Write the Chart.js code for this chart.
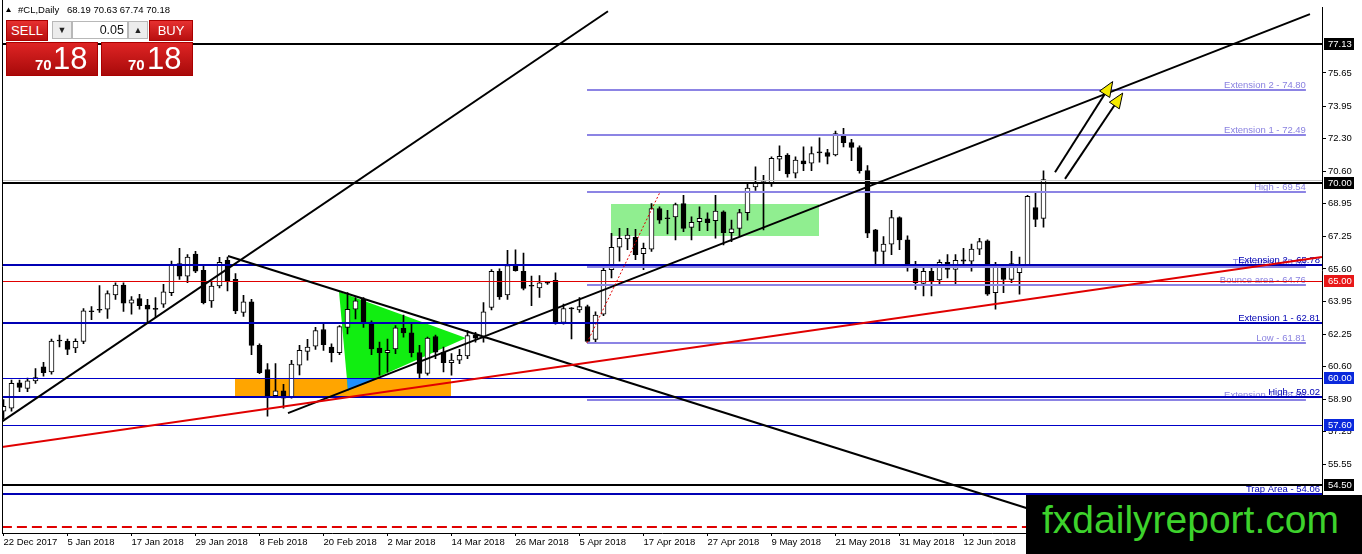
<!DOCTYPE html>
<html><head><meta charset="utf-8">
<script src="https://cdn.jsdelivr.net/npm/chart.js@4/dist/chart.umd.min.js"></script>
<style>
html,body{margin:0;padding:0;background:#fff;overflow:hidden}
#wrap{position:relative;width:1362px;height:554px;font-family:"Liberation Sans",Arial,sans-serif}
#c{position:absolute;left:0;top:0}
.btn{position:absolute;background:linear-gradient(#e63030,#b80f0f);color:#fff;font-size:13px;text-align:center;box-sizing:border-box;border:1px solid #a00}
.spin{position:absolute;background:#ececec;border:1px solid #b8b8b8;box-sizing:border-box;font-size:9px;text-align:center;color:#222}
.inp{position:absolute;background:#fff;border:1px solid #b8b8b8;box-sizing:border-box;font-size:12.5px;text-align:right;padding-right:3px;color:#111}
.big{position:absolute;background:linear-gradient(#de2424,#a80a0a);box-sizing:border-box;border:1px solid #a00;color:#fff}
.big .s{position:absolute;font-size:15px;font-weight:bold;line-height:15px}
.big .b{position:absolute;font-size:31px;line-height:31px}
#wm{position:absolute;left:1026px;top:495px;width:336px;height:59px;background:#000;color:#3dd22c;font-size:39px;line-height:39px;box-sizing:border-box;padding:5px 0 0 16px;white-space:nowrap}
</style></head>
<body>
<div id="wrap">
<canvas id="c" width="1362" height="554"></canvas>
<div class="btn" style="left:6px;top:20px;width:42px;height:21px;line-height:19px">SELL</div>
<div class="spin" style="left:52px;top:21px;width:20px;height:18px;line-height:16px">&#9660;</div>
<div class="inp" style="left:72px;top:21px;width:56px;height:18px;line-height:16px">0.05</div>
<div class="spin" style="left:128px;top:21px;width:20px;height:18px;line-height:16px">&#9650;</div>
<div class="btn" style="left:149px;top:20px;width:44px;height:21px;line-height:19px">BUY</div>
<div class="big" style="left:6px;top:42px;width:92px;height:34px"><span class="s" style="left:28px;top:14px">70</span><span class="b" style="left:46px;top:0px">18</span></div>
<div class="big" style="left:101px;top:42px;width:92px;height:34px"><span class="s" style="left:26px;top:14px">70</span><span class="b" style="left:45px;top:0px">18</span></div>
<div id="wm">fxdailyreport.com</div>
</div>
<script>
// ---------- data ----------
const dateLabels = ['22 Dec 2017','5 Jan 2018','17 Jan 2018','29 Jan 2018','8 Feb 2018','20 Feb 2018','2 Mar 2018','14 Mar 2018','26 Mar 2018','5 Apr 2018','17 Apr 2018','27 Apr 2018','9 May 2018','21 May 2018','31 May 2018','12 Jun 2018'];
const dateTickIndex = [0,8,16,24,32,40,48,56,64,72,80,88,96,104,112,120];

const opens = [58.30,58.46,59.76,59.47,59.85,60.57,60.32,61.95,61.88,61.55,61.88,63.45,63.52,63.53,64.26,64.77,63.84,64.08,63.74,63.58,63.79,64.38,65.87,65.23,66.36,65.53,63.96,64.72,66.04,65.06,63.37,63.91,61.68,60.44,59.10,59.34,59.05,60.66,61.37,61.64,62.49,61.59,61.30,62.60,63.53,64.04,62.77,61.54,61.30,61.50,62.55,62.32,61.30,60.24,62.13,61.33,60.79,60.92,61.13,62.21,62.05,63.62,65.48,64.26,65.79,65.48,64.74,64.63,64.89,65.01,62.86,63.58,63.50,63.67,61.98,63.28,65.56,66.72,67.14,67.22,66.38,66.61,68.70,68.22,68.27,68.95,67.73,68.02,68.17,68.07,68.53,67.46,67.68,68.49,69.80,70.02,69.96,71.23,71.44,70.51,71.15,71.02,71.58,71.57,71.45,72.47,72.08,71.83,70.64,67.61,66.50,66.87,68.23,67.09,65.60,64.85,65.48,65.03,65.94,65.57,66.07,65.99,66.61,67.04,64.38,65.74,65.06,65.40,65.82,68.75,68.19];
const highs = [58.90,59.90,59.90,60.00,60.49,60.80,62.00,62.20,62.00,62.01,63.57,63.67,64.75,64.47,64.89,64.89,64.18,64.30,64.04,64.13,64.81,66.00,66.66,66.33,66.50,65.74,64.97,66.19,66.21,65.36,64.24,64.04,61.76,60.74,60.74,59.68,60.91,61.68,61.98,62.60,62.77,61.76,62.69,64.38,64.13,64.13,62.94,61.84,62.00,62.69,63.23,62.86,61.68,62.10,62.21,61.59,61.25,61.47,62.44,62.35,63.87,65.57,65.60,66.55,66.58,66.41,65.23,65.26,64.95,65.40,63.79,63.62,64.13,63.74,63.40,65.74,67.43,67.68,67.68,67.63,66.92,68.95,68.78,68.61,68.98,69.37,68.27,68.78,68.48,69.37,68.58,68.10,68.65,70.00,70.84,70.40,71.35,71.91,71.52,71.35,71.86,71.86,72.33,71.74,72.67,72.81,72.25,71.91,70.90,67.63,67.26,68.61,68.27,67.29,65.99,65.70,65.72,66.07,66.33,66.33,66.66,66.87,67.17,67.09,65.94,65.82,66.50,66.21,69.37,69.54,70.63];
const lows = [57.90,58.30,59.30,59.30,59.73,60.10,60.20,61.60,61.20,61.30,61.76,62.99,63.37,63.06,64.04,63.42,63.28,63.53,62.86,63.11,63.62,64.23,65.06,64.89,65.40,63.80,63.62,64.63,64.47,63.30,63.16,61.20,60.23,58.04,59.02,58.46,58.97,60.16,60.92,61.47,61.42,60.83,61.20,62.26,63.03,62.60,61.20,60.15,60.30,61.25,62.10,61.08,59.98,60.15,60.99,60.32,60.15,60.74,60.99,61.84,61.84,63.50,64.04,64.04,65.48,64.52,63.71,64.13,64.80,62.77,62.77,62.01,63.37,61.81,61.81,63.20,65.14,66.00,66.58,66.07,65.56,66.50,67.93,67.39,67.09,67.51,67.09,67.56,67.56,67.17,66.83,67.00,67.26,68.10,69.63,67.60,69.83,70.64,70.30,70.27,70.64,70.64,71.07,70.98,71.40,71.86,71.15,70.51,67.20,65.82,65.82,66.33,66.58,65.48,64.55,64.21,64.21,64.80,65.14,64.80,65.74,65.48,66.33,64.24,63.53,64.38,64.89,64.30,65.74,67.77,67.74];
const closes = [58.55,59.73,59.52,59.86,60.03,60.28,61.89,61.90,61.47,61.88,63.45,63.40,63.48,64.33,64.77,63.84,64.01,63.71,63.53,63.52,64.42,65.82,65.23,66.21,65.48,63.87,64.72,65.94,64.98,63.45,63.91,61.68,60.28,59.05,59.34,58.97,60.71,61.42,61.59,62.44,61.71,61.30,62.64,63.53,63.96,62.86,61.50,61.30,61.42,62.57,62.32,61.30,60.24,62.05,61.33,60.79,60.92,61.17,62.18,62.05,63.40,65.48,64.16,65.77,65.51,64.60,64.71,64.89,64.87,62.86,63.57,63.55,63.67,61.88,63.23,65.53,66.70,67.17,67.34,66.33,66.66,68.70,68.10,68.17,68.90,67.68,67.99,68.19,67.97,68.56,67.46,67.66,68.49,69.75,70.00,70.08,71.27,71.37,70.47,71.18,70.98,71.52,71.55,71.37,72.54,72.08,71.83,70.64,67.43,66.50,66.87,68.23,67.09,65.74,64.89,65.48,64.98,65.94,65.57,66.04,65.99,66.61,67.00,64.30,65.82,65.06,65.87,65.82,69.32,68.14,70.18];

const yTickValues = [75.65,73.95,72.30,70.60,68.95,67.25,65.60,63.95,62.25,60.60,58.90,57.25,55.55];

// horizontal levels across the whole chart: [price, colour, width]
const fullLevels = [[77.13,'#000',2],[70.18,'#c4c4c4',1],[70.00,'#000',2],[65.78,'#0000b4',2],[65.00,'#e00000',1],[62.81,'#0000b4',2],[60.00,'#0000c8',1],[59.02,'#0000b4',2],[57.60,'#0000c8',1],[54.50,'#000',2],[54.06,'#0000b4',2]];
const blueLabels = [[65.78,'Extension 2 - 65.78'],[62.81,'Extension 1 - 62.81'],[59.02,'High - 59.02'],[54.06,'Trap Area - 54.06']];
// fibo levels (start index, end index)
const fiboRange = [72.94,162.8];
const fiboLevels = [[74.80,'Extension 2 - 74.80'],[72.49,'Extension 1 - 72.49'],[69.54,'High - 69.54'],[65.68,'Trap area - 65.68'],[64.76,'Bounce area - 64.76'],[61.81,'Low - 61.81'],[58.86,'Extension 1 - 58.86']];
const dashedLevel = [52.37, -0.2, 128];
// trend lines: [i0,p0,i1,p1,colour,width]
const trendLines = [[-0.44,57.70,75.56,78.82,'#000',2],[28.06,66.26,137.06,52.14,'#000',2],[35.56,58.20,163.31,78.67,'#000',2],[-0.19,56.46,164.81,66.21,'#e00000',2]];
const fiboLink = [72.94,61.81,82.06,69.54];
const arrows = [[131.44,70.56,138.65,75.21],[132.69,70.22,139.9,74.62]];
const rects = [[75.94,101.94,67.29,68.95,'#90ee90'],[28.94,55.94,59.02,60.00,'#ffa500']];
const polys = [[[[41.94,64.43],[57.81,62.05],[43.06,59.36]],'#11ee11'],[[[42.94,59.96],[46.81,59.96],[43.06,59.36]],'#1e90ff']];
const axisBoxes = [[77.13,'#000'],[70.00,'#000'],[65.00,'#e81818'],[60.00,'#0a28dc'],[57.60,'#0a28dc'],[54.50,'#000']];

const FONT = '9.5px "Liberation Sans", Arial, sans-serif';

const bodies = closes.map((c,k)=>({x:k, y:[opens[k], c]}));
const wicks = highs.map((h,k)=>({x:k, y:[lows[k], h]}));

const mt4 = {
  id:'mt4',
  beforeDatasetsDraw(chart){
    const {ctx, chartArea:a, scales:{x,y}} = chart;
    ctx.save();
    ctx.beginPath(); ctx.rect(a.left,a.top,a.right-a.left,a.bottom-a.top); ctx.clip();
    rects.forEach(r=>{
      const x0=Math.round(x.getPixelForValue(r[0])), x1=Math.round(x.getPixelForValue(r[1]));
      const y0=Math.round(y.getPixelForValue(r[3])), y1=Math.round(y.getPixelForValue(r[2]));
      ctx.fillStyle=r[4]; ctx.fillRect(x0,y0,x1-x0,y1-y0);
    });
    polys.forEach(p=>{
      ctx.beginPath();
      p[0].forEach((pt,k)=>{const px=x.getPixelForValue(pt[0]), py=y.getPixelForValue(pt[1]); k?ctx.lineTo(px,py):ctx.moveTo(px,py);});
      ctx.closePath(); ctx.fillStyle=p[1]; ctx.fill();
    });
    ctx.restore();
  },
  afterDatasetsDraw(chart){
    const {ctx, chartArea:a, scales:{x,y}} = chart;
    ctx.save();
    ctx.beginPath(); ctx.rect(a.left,a.top,a.right-a.left,a.bottom-a.top); ctx.clip();
    const hl=(x0,x1,v,w,c,dash)=>{
      let py=y.getPixelForValue(v); py = w%2 ? Math.round(py)+0.5 : Math.round(py);
      ctx.beginPath(); ctx.setLineDash(dash||[]); ctx.strokeStyle=c; ctx.lineWidth=w;
      ctx.moveTo(x0,py); ctx.lineTo(x1,py); ctx.stroke(); ctx.setLineDash([]);
      return py;
    };
    // fibo lines + labels
    const fx0=x.getPixelForValue(fiboRange[0]), fx1=x.getPixelForValue(fiboRange[1]);
    ctx.font=FONT; ctx.textAlign='right'; ctx.textBaseline='alphabetic';
    fiboLevels.forEach(f=>{
      const py=hl(fx0,fx1,f[0],2,'#8c84e4');
      ctx.fillStyle='#8a82e0'; ctx.fillText(f[1], fx1, py-2);
    });
    // full levels
    fullLevels.forEach(l=>hl(a.left,a.right,l[0],l[2],l[1]));
    hl(x.getPixelForValue(dashedLevel[1]), x.getPixelForValue(dashedLevel[2]), dashedLevel[0], 2, '#e00000', [10,5]);
    ctx.fillStyle='#0000b4'; ctx.textAlign='right';
    blueLabels.forEach(b=>{ const py=Math.round(y.getPixelForValue(b[0])); ctx.fillText(b[1], a.right-2, py-2); });
    // trend lines
    trendLines.forEach(t=>{
      ctx.beginPath(); ctx.strokeStyle=t[4]; ctx.lineWidth=t[5];
      ctx.moveTo(x.getPixelForValue(t[0]), y.getPixelForValue(t[1]));
      ctx.lineTo(x.getPixelForValue(t[2]), y.getPixelForValue(t[3])); ctx.stroke();
    });
    ctx.beginPath(); ctx.strokeStyle='#e00000'; ctx.lineWidth=1; ctx.setLineDash([2,2]);
    ctx.moveTo(x.getPixelForValue(fiboLink[0]), y.getPixelForValue(fiboLink[1]));
    ctx.lineTo(x.getPixelForValue(fiboLink[2]), y.getPixelForValue(fiboLink[3])); ctx.stroke(); ctx.setLineDash([]);
    // arrows
    arrows.forEach(ar=>{
      const x0=x.getPixelForValue(ar[0]), y0=y.getPixelForValue(ar[1]), x1=x.getPixelForValue(ar[2]), y1=y.getPixelForValue(ar[3]);
      const dx=x1-x0, dy=y1-y0, L=Math.hypot(dx,dy), ux=dx/L, uy=dy/L;
      const bx=x1-ux*15, by=y1-uy*15;
      ctx.beginPath(); ctx.strokeStyle='#000'; ctx.lineWidth=2; ctx.moveTo(x0,y0); ctx.lineTo(bx,by); ctx.stroke();
      ctx.beginPath(); ctx.moveTo(x1,y1); ctx.lineTo(bx-uy*6,by+ux*6); ctx.lineTo(bx+uy*6,by-ux*6); ctx.closePath();
      ctx.fillStyle='#f4ea00'; ctx.fill(); ctx.lineWidth=1; ctx.strokeStyle='#000'; ctx.stroke();
    });
    ctx.restore();
  },
  afterDraw(chart){
    const {ctx, chartArea:a, scales:{y}} = chart;
    ctx.save();
    // left border
    ctx.strokeStyle='#000'; ctx.lineWidth=1; ctx.beginPath(); ctx.moveTo(a.left+0.5,0); ctx.lineTo(a.left+0.5,a.bottom); ctx.stroke();
    // axis value boxes
    ctx.font=FONT; ctx.textAlign='left'; ctx.textBaseline='middle';
    axisBoxes.forEach(b=>{
      const py=Math.round(y.getPixelForValue(b[0]));
      ctx.fillStyle=b[1]; ctx.fillRect(a.right+2, py-6, 30, 12);
      ctx.fillStyle='#fff'; ctx.fillText(b[0].toFixed(2), a.right+6, py+0.5);
    });
    // header
    ctx.fillStyle='#000';
    ctx.beginPath(); ctx.moveTo(6,12); ctx.lineTo(11,12); ctx.lineTo(8.5,7.5); ctx.closePath(); ctx.fill();
    ctx.textBaseline='middle';
    ctx.fillText('#CL,Daily', 18, 10);
    ctx.fillText(opens[opens.length-1].toFixed(2)+' '+highs[highs.length-1].toFixed(2)+' '+lows[lows.length-1].toFixed(2)+' '+closes[closes.length-1].toFixed(2), 67, 10);
    ctx.restore();
  }
};

new Chart(document.getElementById('c'), {
  type:'bar',
  data:{datasets:[
    {data:bodies, grouped:false, barThickness:5, minBarLength:1, borderWidth:1, borderColor:'#000', borderSkipped:false,
     backgroundColor:(c)=>{const d=c.raw; return d && d.y[1]>d.y[0] ? '#fff' : '#000';}},
    {data:wicks, grouped:false, barThickness:1, backgroundColor:'#000', borderWidth:0}
  ]},
  options:{
    responsive:false, devicePixelRatio:1, animation:false,
    layout:{padding:{left:2,top:2,right:0,bottom:0}},
    plugins:{legend:{display:false}, tooltip:{enabled:false}},
    scales:{
      x:{type:'linear', position:'bottom', min:-0.1875, max:164.8125, offset:false,
        grid:{drawOnChartArea:false, drawTicks:true, tickLength:3, color:'#000', offset:false},
        border:{display:true, color:'#000', width:1},
        ticks:{autoSkip:false, maxRotation:0, minRotation:0, align:'start', padding:1, color:'#000',
          font:{family:'"Liberation Sans", Arial, sans-serif', size:9.5},
          callback:(v,i)=>dateLabels[i]},
        afterBuildTicks:s=>{ s.ticks = dateTickIndex.map(v=>({value:v})); },
        afterFit:s=>{ s.height = 21; }
      },
      y:{type:'linear', position:'right', min:52.05, max:79.0,
        grid:{drawOnChartArea:false, drawTicks:true, tickLength:4, color:'#000'},
        border:{display:true, color:'#000', width:1},
        ticks:{padding:2, color:'#000', font:{family:'"Liberation Sans", Arial, sans-serif', size:9.5},
          callback:v=>Number(v).toFixed(2)},
        afterBuildTicks:s=>{ s.ticks = yTickValues.map(v=>({value:v})); },
        afterFit:s=>{ s.width = 40; }
      }
    }
  },
  plugins:[mt4]
});
</script>
</body></html>
